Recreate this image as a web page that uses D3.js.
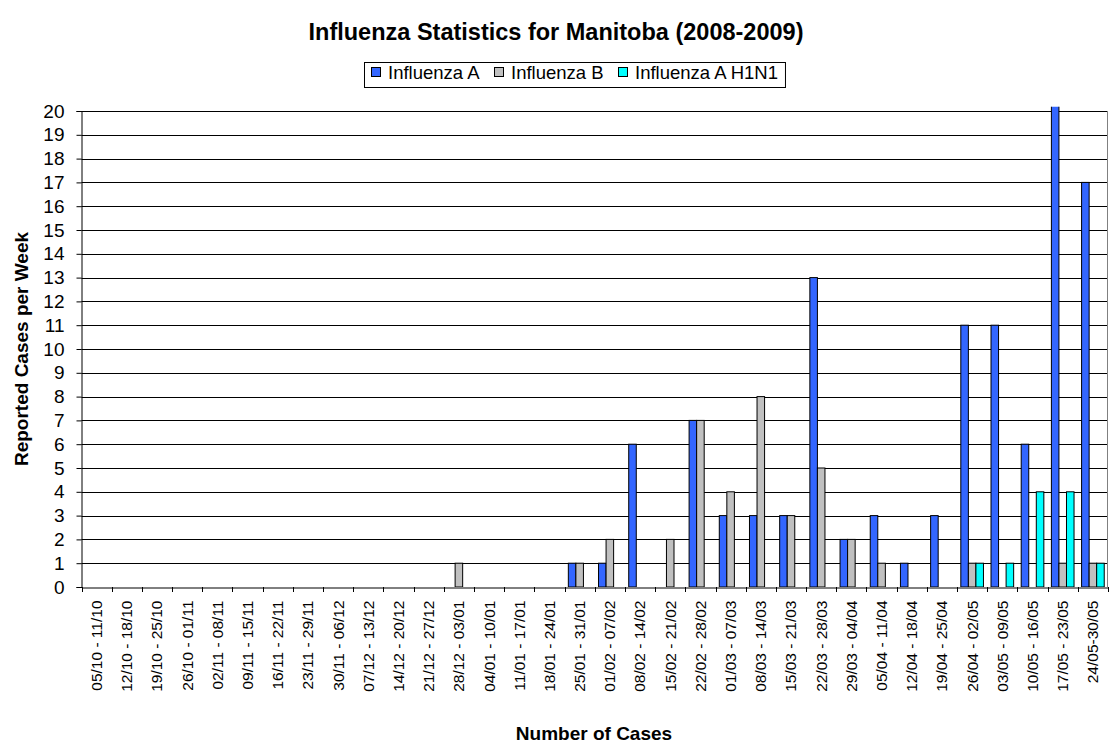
<!DOCTYPE html>
<html><head><meta charset="utf-8">
<script src="https://cdn.jsdelivr.net/npm/d3@7"></script>
<style>body{margin:0;background:#fff;} svg{display:block;font-family:Arial,"Liberation Sans",sans-serif;}</style>
</head><body>
<script>
const categories = ["05/10 - 11/10","12/10 - 18/10","19/10 - 25/10","26/10 - 01/11","02/11 - 08/11","09/11 - 15/11","16/11 - 22/11","23/11 - 29/11","30/11 - 06/12","07/12 - 13/12","14/12 - 20/12","21/12 - 27/12","28/12 - 03/01","04/01 - 10/01","11/01 - 17/01","18/01 - 24/01","25/01 - 31/01","01/02 - 07/02","08/02 - 14/02","15/02 - 21/02","22/02 - 28/02","01/03 - 07/03","08/03 - 14/03","15/03 - 21/03","22/03 - 28/03","29/03 - 04/04","05/04 - 11/04","12/04 - 18/04","19/04 - 25/04","26/04 - 02/05","03/05 - 09/05","10/05 - 16/05","17/05 - 23/05","24/05-30/05"];
const influenzaA    = [0,0,0,0,0,0,0,0,0,0,0,0,0,0,0,0,1,1,6,0,7,3,3,3,13,2,3,1,3,11,11,6,21,17];
const influenzaB    = [0,0,0,0,0,0,0,0,0,0,0,0,1,0,0,0,1,2,0,2,7,4,8,3,5,2,1,0,0,1,0,0,1,1];
const influenzaH1N1 = [0,0,0,0,0,0,0,0,0,0,0,0,0,0,0,0,0,0,0,0,0,0,0,0,0,0,0,0,0,1,1,4,4,1];
const seriesNames = ["Influenza A","Influenza B","Influenza A H1N1"];
const seriesColors = ["#3366FF","#C0C0C0","#00FFFF"];
const yTicks = d3.range(0, 21);

const W = 1109, H = 744;
const FONT = "Arial, 'Liberation Sans', sans-serif";
const m = {left: 81.5, right: 1108, top: 111, bottom: 587};
const svg = d3.select("body").append("svg").attr("width", W).attr("height", H);

const x = d3.scaleBand().domain(categories).range([m.left, m.right]).paddingInner(0).paddingOuter(0);
const xs = d3.scaleBand().domain(seriesNames).range([0, x.bandwidth()]).paddingInner(0).paddingOuter(0.5);
const y = d3.scaleLinear().domain([0, 20]).range([m.bottom, m.top]);

// gridlines
svg.append("g").selectAll("line").data(yTicks.slice(1)).join("line")
  .attr("x1", m.left).attr("x2", m.right)
  .attr("y1", d => Math.round(y(d)) + 0.5).attr("y2", d => Math.round(y(d)) + 0.5)
  .attr("stroke", "#000").attr("stroke-width", 1);
// right border
svg.append("line").attr("x1", m.right - 0.5).attr("x2", m.right - 0.5)
  .attr("y1", y(20)).attr("y2", y(0)).attr("stroke", "#808080");

svg.append("clipPath").attr("id", "clip").append("rect")
  .attr("x", m.left).attr("width", m.right - m.left)
  .attr("y", y(20.18)).attr("height", y(0) - y(20.18));

const data = [influenzaA, influenzaB, influenzaH1N1];
const bars = svg.append("g").attr("clip-path", "url(#clip)");
data.forEach((vals, si) => {
  bars.append("g").selectAll("rect").data(vals.map((v, i) => ({v, c: categories[i]})).filter(d => d.v > 0)).join("rect")
    .attr("x", d => x(d.c) + xs(seriesNames[si]))
    .attr("width", xs.bandwidth())
    .attr("y", d => y(d.v))
    .attr("height", d => y(0) - y(d.v))
    .attr("fill", seriesColors[si])
    .attr("stroke", "#000").attr("stroke-width", 1);
});

// y axis
const yAxis = d3.axisLeft(y).tickValues(yTicks).tickSize(5).tickPadding(12).tickFormat(d3.format("d"));
const gy = svg.append("g").attr("transform", `translate(${m.left},0)`).call(yAxis);
gy.select(".domain").attr("stroke", "#000");
gy.selectAll(".tick line").attr("stroke", "#000");
gy.selectAll("text").attr("font-size", 19).attr("font-family", FONT).attr("fill", "#000");

// x axis
const xAxis = d3.axisBottom(x).tickSize(0).tickPadding(0);
const gx = svg.append("g").attr("transform", `translate(0,${Math.round(y(0)) + 0.5})`).call(xAxis);
gx.select(".domain").attr("stroke", "#000");
gx.selectAll(".tick text")
  .attr("font-size", 15.5).attr("font-family", FONT).attr("fill", "#000")
  .attr("transform", "rotate(-90)").attr("text-anchor", "end")
  .attr("x", -13).attr("y", 0).attr("dy", "0.35em");
// category boundary ticks
svg.append("g").selectAll("line").data(categories.concat(["__end"])).join("line")
  .attr("x1", (d, i) => Math.round(m.left + i * x.step()) + 0.5)
  .attr("x2", (d, i) => Math.round(m.left + i * x.step()) + 0.5)
  .attr("y1", y(0)).attr("y2", y(0) + 5).attr("stroke", "#000");

// title
svg.append("text").attr("x", 556).attr("y", 40).attr("text-anchor", "middle")
  .attr("font-size", 23.5).attr("font-weight", "bold").text("Influenza Statistics for Manitoba (2008-2009)");
// axis titles
svg.append("text").attr("transform", "translate(28,349) rotate(-90)").attr("text-anchor", "middle")
  .attr("font-size", 19).attr("font-weight", "bold").text("Reported Cases per Week");
svg.append("text").attr("x", 594).attr("y", 740).attr("text-anchor", "middle")
  .attr("font-size", 19).attr("font-weight", "bold").text("Number of Cases");

// legend
const lg = svg.append("g");
const legendFont = 18.5;
const sq = 9;
const legendX = [371, 494, 618];
let endX = 0;
seriesNames.forEach((n, i) => {
  const g = lg.append("g");
  g.append("rect").attr("x", legendX[i] + 0.5).attr("y", 67.5).attr("width", sq).attr("height", sq)
    .attr("fill", seriesColors[i]).attr("stroke", "#000");
  const t = g.append("text").attr("x", legendX[i] + 17).attr("y", 79).attr("font-size", legendFont).text(n);
  endX = legendX[i] + 17 + t.node().getComputedTextLength();
});
lg.insert("rect", ":first-child").attr("x", 364.5).attr("y", 62.5).attr("width", endX + 7 - 364).attr("height", 25)
  .attr("fill", "#fff").attr("stroke", "#000");
</script>
</body></html>
